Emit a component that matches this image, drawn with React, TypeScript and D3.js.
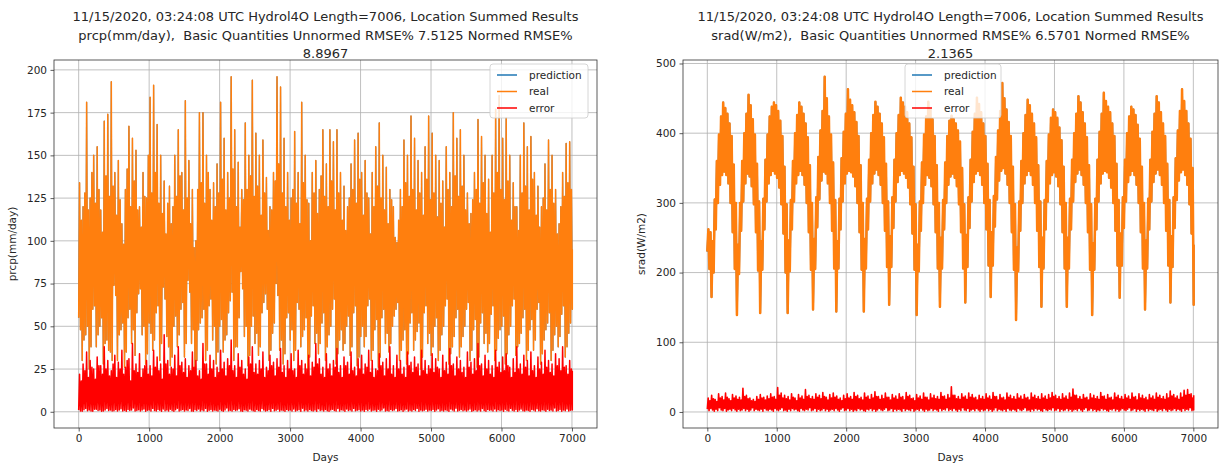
import React, { useEffect, useRef } from 'react';
import * as d3 from 'd3';

// last day index of the 7006-long series
const LAST_DAY = 7005;

const xTicks = [0, 1000, 2000, 3000, 4000, 5000, 6000, 7000];
const prcpTicks = [0, 25, 50, 75, 100, 125, 150, 175, 200];
const sradTicks = [0, 100, 200, 300, 400, 500];
const legendLabels = ['prediction', 'real', 'error'];

const prcpTitle = [
  '11/15/2020, 03:24:08 UTC Hydrol4O Length=7006, Location Summed Results',
  'prcp(mm/day),  Basic Quantities Unnormed RMSE% 7.5125 Normed RMSE%',
  '8.8967',
];
const sradTitle = [
  '11/15/2020, 03:24:08 UTC Hydrol4O Length=7006, Location Summed Results',
  'srad(W/m2),  Basic Quantities Unnormed RMSE% 6.5701 Normed RMSE%',
  '2.1365',
];

// prcp: spike tops / floors of the real series, one pair per ~25 days
const prcpRealHigh = [
  134, 112, 120, 128, 181, 118, 125, 140, 150, 122, 155, 130, 118, 105, 170, 138, 174, 126, 193, 132,
  140, 115, 147, 124, 110, 98, 130, 142, 167, 120, 160, 135, 153, 118, 120, 108, 140, 126, 125, 150,
  184, 128, 191, 140, 168, 122, 150, 116, 135, 104, 122, 132, 110, 120, 150, 126, 165, 138, 140, 118,
  182, 125, 147, 110, 130, 96, 100, 130, 175, 134, 175, 122, 150, 140, 130, 112, 134, 120, 145, 128,
  181, 136, 160, 118, 140, 125, 196, 142, 165, 120, 146, 108, 130, 124, 169, 130, 150, 138, 194, 126,
  163, 132, 150, 115, 159, 128, 137, 106, 120, 118, 140, 135, 196, 145, 190, 128, 160, 120, 140, 112,
  125, 130, 164, 122, 140, 110, 181, 134, 150, 124, 122, 100, 140, 128, 147, 116, 130, 138, 165, 126,
  145, 120, 165, 135, 158, 118, 165, 128, 140, 112, 132, 106, 120, 125, 145, 130, 159, 122, 163, 136,
  140, 115, 147, 128, 125, 104, 140, 120, 155, 132, 169, 125, 150, 118, 143, 110, 130, 124, 120, 102,
  99, 112, 130, 120, 159, 134, 150, 126, 173, 130, 160, 118, 147, 128, 140, 115, 155, 136, 173, 124,
  163, 128, 150, 114, 147, 122, 135, 108, 155, 130, 140, 120, 175, 138, 160, 126, 165, 132, 150, 118,
  128, 110, 116, 124, 140, 130, 171, 122, 161, 134, 150, 116, 136, 105, 150, 128, 177, 140, 185, 130,
  160, 124, 172, 135, 150, 112, 134, 120, 120, 106, 150, 128, 169, 132, 155, 118, 161, 136, 140, 115,
  132, 108, 120, 125, 145, 118, 159, 130, 150, 122, 130, 104, 110, 120, 140, 126, 157, 134, 158, 130,
  95,
];
const prcpRealLow = [
  55, 48, 30, 42, 45, 50, 25, 38, 60, 62, 38, 45, 50, 55, 28, 40, 42, 36, 35, 30,
  74, 68, 30, 45, 48, 52, 26, 35, 55, 60, 40, 48, 33, 58, 69, 72, 45, 50, 28, 34,
  52, 46, 36, 42, 58, 62, 30, 40, 73, 66, 44, 38, 27, 32, 50, 56, 38, 45, 60, 64,
  32, 40, 77, 70, 40, 48, 25, 30, 48, 52, 55, 60, 30, 36, 62, 66, 42, 50, 28, 35,
  50, 54, 35, 42, 45, 58, 65, 70, 30, 38, 38, 55, 82, 72, 44, 50, 27, 33, 50, 56,
  40, 46, 33, 38, 58, 64, 69, 60, 30, 36, 46, 52, 75, 68, 36, 42, 28, 34, 55, 58,
  42, 48, 30, 36, 64, 60, 38, 44, 48, 55, 25, 32, 56, 62, 40, 46, 34, 40, 52, 58,
  30, 38, 45, 50, 60, 66, 28, 34, 42, 48, 36, 40, 50, 56, 33, 38, 58, 62, 27, 32,
  44, 50, 38, 44, 62, 66, 30, 36, 48, 54, 26, 32, 55, 60, 40, 46, 35, 40, 50, 56,
  60, 64, 30, 36, 42, 48, 28, 34, 52, 58, 36, 42, 47, 52, 25, 32, 58, 62, 40, 46,
  33, 38, 50, 55, 30, 36, 45, 50, 62, 66, 28, 34, 38, 44, 55, 60, 32, 38, 44, 50,
  60, 64, 30, 36, 48, 54, 26, 32, 52, 58, 40, 46, 35, 40, 57, 62, 30, 36, 43, 48,
  50, 56, 28, 34, 45, 50, 62, 66, 33, 38, 40, 46, 55, 60, 30, 36, 48, 54, 36, 42,
  60, 64, 28, 34, 42, 48, 52, 58, 30, 36, 45, 50, 38, 44, 57, 62, 32, 38, 46, 52,
  60,
];
const prcpErrHigh = [
  22, 18, 28, 24, 35, 20, 30, 26, 25, 19, 32, 27, 27, 22, 38, 25, 30, 21, 24, 28,
  33, 20, 29, 25, 36, 22, 26, 30, 31, 18, 40, 24, 28, 23, 34, 20, 25, 27, 30, 22,
  27, 21, 36, 26, 32, 24, 28, 19, 45, 28, 30, 22, 26, 25, 33, 21, 38, 27, 29, 23,
  31, 20, 27, 24, 35, 26, 30, 21, 24, 19, 40, 28, 28, 22, 33, 25, 30, 20, 26, 23,
  36, 25, 29, 21, 31, 27, 42, 24, 27, 20, 34, 26, 30, 22, 25, 19, 32, 28, 38, 23,
  28, 22, 30, 25, 35, 20, 26, 24, 33, 27, 29, 21, 31, 26, 37, 23, 27, 20, 30, 25,
  34, 24, 25, 20, 36, 27, 30, 22, 28, 25, 33, 21, 29, 26, 40, 28, 31, 22, 26, 20,
  34, 25, 28, 21, 30, 26, 37, 23, 27, 20, 32, 27, 29, 22, 35, 24, 26, 21, 31, 25,
  33, 22, 28, 26, 36, 23, 30, 20, 25, 24, 34, 27, 29, 21, 31, 25, 38, 22, 27, 20,
  33, 25, 30, 22, 26, 20, 35, 27, 29, 23, 32, 26, 28, 21, 36, 24, 30, 22, 27, 25,
  34, 23, 31, 26, 25, 20, 33, 24, 29, 22, 37, 27, 28, 21, 32, 25, 30, 23, 26, 20,
  35, 26, 29, 22, 31, 24, 40, 27, 28, 21, 33, 25, 30, 22, 27, 20, 36, 26, 29, 23,
  32, 24, 34, 27, 26, 20, 31, 23, 38, 25, 28, 22, 33, 26, 30, 21, 35, 24, 27, 20,
  32, 25, 29, 22, 36, 26, 30, 23, 28, 21, 34, 27, 31, 24, 38, 26, 27, 22, 30, 25,
  24,
];
const prcpErrLow = [
  1, 0.5, 0.3, 1.2, 2, 0.6, 1, 0.4, 0.3, 1.5, 1.5, 0.8, 1, 0.3, 0.5, 1.1, 2, 0.7, 1, 0.4,
  0.6, 1.3, 0.4, 1, 1.8, 0.5, 0.9, 0.3, 1.4, 0.7, 1, 2.2, 0.5, 0.8, 1.2, 0.4, 1, 1.6, 0.3, 0.9,
  1.1, 0.5, 2, 0.7, 0.4, 1.3, 0.9, 0.3, 1.7, 0.6, 1, 0.4, 1.5, 0.8, 0.3, 1.2, 2.1, 0.5, 0.9, 1.4,
  0.4, 1, 0.7, 1.9, 0.5, 0.3, 1.2, 0.8, 1.6, 0.4, 1, 0.6, 2, 0.3, 0.9, 1.3, 0.5, 1.1, 0.7, 0.4,
  1.5, 0.8, 0.3, 1, 2.2, 0.6, 0.9, 0.4, 1.3, 0.7, 1, 1.8, 0.5, 0.3, 1.2, 0.9, 0.4, 1.6, 1, 0.6,
  0.3, 1.4, 0.8, 0.5, 1.9, 1, 0.4, 0.7, 1.2, 0.3, 2, 0.6, 0.9, 1.5, 0.4, 1.1, 0.7, 0.3, 1.3, 0.8,
  1, 0.5, 1.7, 0.4, 0.9, 1.2, 0.3, 2.1, 0.6, 1, 0.4, 1.4, 0.8, 0.5, 1.1, 0.3, 1.8, 0.7, 1, 0.4,
  1.3, 0.6, 0.3, 1, 1.5, 0.8, 0.4, 1.9, 0.5, 1.2, 0.9, 0.3, 1.6, 0.7, 1, 0.4, 2, 0.6, 0.9, 1.2,
  0.5, 1, 0.3, 1.4, 0.8, 1.7, 0.4, 0.9, 1.1, 0.3, 1.5, 0.6, 1, 2.2, 0.5, 0.8, 0.4, 1.3, 0.7, 1,
  1.9, 0.4, 0.8, 1.2, 0.3, 1, 1.6, 0.5, 0.9, 0.4, 1.3, 0.7, 2, 0.3, 1.1, 0.6, 0.9, 1.5, 0.4, 1,
  0.7, 1.4, 0.3, 1, 1.8, 0.5, 0.9, 0.4, 1.2, 0.8, 0.3, 1.6, 1, 0.5, 2.1, 0.4, 0.9, 1.3, 0.6, 1,
  0.4, 1.1, 1.7, 0.3, 0.8, 1.2, 0.5, 1, 0.4, 1.9, 0.7, 0.3, 1.4, 0.9, 1, 0.5, 1.6, 0.4, 1.2, 0.8,
  1, 0.3, 1.5, 0.7, 0.4, 2, 0.9, 0.5, 1.3, 0.3, 1, 1.7, 0.6, 0.4, 1.1, 0.8, 0.3, 1.4, 1, 0.5,
  1.8, 0.6, 0.4, 1.2, 0.9, 0.3, 1.5, 0.7, 1, 0.4, 2.2, 0.5, 0.8, 1.3, 0.3, 1, 0.6, 1.6, 0.4, 0.9,
  1,
];

// srad: floor / top of the real series, one pair per ~30.5 days, one row per seasonal cycle
const sradRealLow = [
  230, 205, 165,
  200, 262, 300, 326, 340, 345, 340, 328, 300, 258, 205, 139,
  198, 260, 302, 328, 342, 338, 324, 298, 258, 203, 142,
  204, 262, 302, 328, 340, 346, 342, 336, 322, 298, 256, 200, 142,
  202, 262, 302, 328, 340, 346, 340, 326, 300, 258, 204, 147,
  205, 265, 305, 332, 345, 342, 328, 300, 260, 206, 144,
  206, 262, 302, 328, 342, 346, 344, 338, 324, 300, 258, 204, 144,
  206, 262, 302, 328, 342, 348, 340, 326, 300, 260, 208, 154,
  208, 264, 302, 330, 340, 346, 342, 336, 322, 298, 256, 204, 139,
  202, 260, 300, 326, 340, 336, 324, 298, 258, 206, 151,
  206, 262, 300, 326, 338, 342, 336, 324, 298, 258, 206, 157,
  208, 264, 302, 330, 342, 346, 340, 326, 300, 262, 210, 165,
  210, 266, 305, 332, 346, 350, 342, 326, 300, 258, 204, 132,
  202, 260, 300, 328, 340, 346, 340, 326, 300, 260, 208, 151,
  206, 262, 302, 328, 340, 344, 338, 324, 298, 258, 206, 151,
  206, 262, 302, 330, 342, 348, 340, 326, 300, 258, 204, 139,
  204, 262, 302, 328, 342, 346, 344, 336, 322, 300, 260, 210, 164,
  210, 264, 302, 330, 340, 346, 340, 326, 300, 258, 206, 147,
  206, 262, 302, 330, 342, 348, 340, 326, 300, 260, 210, 157,
  208, 264, 304, 332, 344, 348, 340, 326, 298, 256, 154,
];
const sradRealHigh = [
  262, 258, 245,
  305, 360, 398, 424, 444, 436, 428, 414, 396, 355, 300, 240,
  300, 360, 400, 428, 455, 440, 420, 398, 356, 302, 245,
  306, 362, 398, 424, 438, 444, 440, 432, 418, 396, 352, 298, 246,
  304, 360, 400, 426, 444, 438, 428, 414, 394, 354, 300, 248,
  308, 366, 404, 432, 481, 450, 424, 398, 358, 304, 245,
  306, 364, 402, 428, 463, 448, 440, 430, 416, 396, 354, 300, 248,
  306, 362, 400, 426, 445, 438, 428, 414, 394, 356, 302, 252,
  308, 362, 400, 426, 451, 444, 438, 430, 414, 394, 352, 298, 240,
  302, 358, 398, 424, 445, 434, 420, 396, 354, 300, 250,
  304, 358, 396, 418, 425, 420, 414, 404, 388, 350, 298, 254,
  308, 362, 402, 428, 451, 442, 430, 414, 396, 356, 304, 258,
  310, 366, 404, 432, 472, 450, 434, 416, 396, 352, 298, 236,
  302, 360, 400, 426, 448, 440, 428, 414, 394, 354, 302, 250,
  304, 360, 398, 422, 434, 430, 422, 408, 390, 352, 300, 250,
  306, 362, 400, 428, 453, 444, 430, 414, 394, 354, 298, 242,
  306, 362, 402, 428, 458, 446, 438, 430, 414, 396, 356, 304, 256,
  308, 362, 400, 424, 438, 434, 426, 412, 392, 352, 300, 246,
  306, 362, 402, 428, 453, 444, 430, 414, 396, 356, 304, 252,
  308, 364, 404, 432, 463, 446, 432, 414, 392, 350, 240,
];
const sradErrHigh = [
  20, 16, 24, 19, 18, 15, 26, 20, 22, 17, 27, 21, 19, 16, 25, 20, 23, 18, 21, 17,
  34, 22, 24, 19, 20, 16, 18, 15, 22, 18, 25, 20, 21, 17, 23, 19, 26, 21, 22, 18,
  35, 24, 27, 20, 24, 19, 22, 17, 26, 21, 20, 16, 25, 20, 23, 18, 32, 22, 24, 19,
  22, 18, 26, 21, 24, 19, 28, 22, 21, 17, 25, 20, 27, 21, 23, 18, 20, 16, 24, 19,
  26, 20, 22, 18, 28, 22, 24, 19, 21, 17, 27, 21, 23, 18, 25, 20, 29, 22, 22, 18,
  24, 19, 27, 21, 21, 17, 25, 20, 23, 18, 26, 21, 22, 17, 28, 22, 24, 19, 20, 16,
  25, 20, 23, 18, 27, 21, 21, 17, 26, 20, 24, 19, 22, 18, 28, 22, 23, 18, 25, 20,
  36, 24, 24, 19, 22, 18, 26, 21, 23, 18, 27, 21, 25, 20, 21, 17, 24, 19, 22, 18,
  26, 20, 23, 18, 28, 22, 22, 17, 25, 20, 21, 17, 27, 21, 24, 19, 22, 18, 26, 20,
  23, 18, 25, 20, 21, 17, 27, 21, 24, 19, 22, 18, 26, 20, 23, 18, 25, 20, 28, 22,
  24, 19, 22, 18, 26, 20, 23, 18, 27, 21, 33, 24, 24, 19, 22, 18, 25, 20, 21, 17,
  26, 20, 24, 19, 22, 18, 28, 22, 23, 18, 25, 20, 21, 17, 27, 21, 24, 19, 22, 18,
  25, 20, 23, 18, 27, 21, 22, 17, 26, 20, 24, 19, 21, 17, 25, 20, 23, 18, 27, 21,
  24, 19, 22, 18, 26, 20, 30, 23, 25, 20, 23, 18, 27, 21, 31, 24, 32, 25, 26, 20,
  24,
];
const sradErrLow = [
  4, 2, 5, 3, 1, 4, 2, 6, 3, 2, 5, 1, 3, 4, 2, 5, 3, 1, 4, 2,
  3, 5, 2, 4, 1, 3, 6, 2, 4, 3, 2, 4, 1, 5, 3, 2, 4, 3, 1, 5,
  3, 2, 4, 6, 2, 3, 1, 4, 2, 5, 3, 4, 2, 1, 5, 3, 2, 4, 3, 6,
  2, 3, 5, 1, 4, 2, 3, 5, 2, 4, 1, 3, 4, 2, 5, 3, 1, 4, 6, 2,
  3, 5, 2, 4, 1, 3, 2, 5, 3, 4, 2, 1, 4, 3, 5, 2, 4, 1, 3, 5,
  3, 2, 4, 6, 2, 3, 5, 1, 4, 2, 4, 3, 1, 5, 2, 4, 3, 2, 5, 1,
  3, 4, 2, 5, 3, 1, 4, 2, 3, 5, 2, 4, 3, 1, 5, 2, 4, 3, 6, 2,
  4, 2, 5, 3, 1, 4, 2, 6, 3, 2, 5, 1, 3, 4, 2, 5, 3, 1, 4, 2,
  3, 5, 2, 4, 1, 3, 6, 2, 4, 3, 2, 4, 1, 5, 3, 2, 4, 3, 1, 5,
  3, 2, 4, 6, 2, 3, 1, 4, 2, 5, 3, 4, 2, 1, 5, 3, 2, 4, 3, 6,
  2, 3, 5, 1, 4, 2, 3, 5, 2, 4, 1, 3, 4, 2, 5, 3, 1, 4, 6, 2,
  3, 5, 2, 4, 1, 3, 2, 5, 3, 4, 2, 1, 4, 3, 5, 2, 4, 1, 3, 5,
  3, 2, 4, 6, 2, 3, 5, 1, 4, 2, 4, 3, 1, 5, 2, 4, 3, 2, 5, 1,
  3, 4, 2, 5, 3, 1, 4, 2, 3, 5, 2, 4, 3, 1, 5, 2, 4, 3, 6, 2,
  3,
];

const COLORS = { prediction: '#1f77b4', real: '#ff7f0e', error: '#ff0000' };
const FONT = '"DejaVu Sans", sans-serif';

type Pt = { d: number; v: number };

// one floor value and one top value per bin -> dense up/down trace
const zigzag = (low: number[], high: number[]): Pt[] => {
  const n = Math.min(low.length, high.length);
  const step = LAST_DAY / (n - 1);
  const pts: Pt[] = [];
  for (let i = 0; i < n; i++) {
    const d = i * step;
    pts.push({ d, v: low[i] });
    if (i < n - 1) pts.push({ d: d + step / 2, v: high[i] });
    else pts.push({ d: LAST_DAY, v: high[i] });
  }
  return pts;
};

type Series = { pts: Pt[]; width: number };
type PanelCfg = {
  box: { left: number; top: number; width: number; height: number };
  title: string[];
  ylabel: string;
  yTicks: number[];
  pred: Series;
  real: Series;
  err: Series;
  legend: { x: number; y: number; w: number; h: number };
};

const drawPanel = (svg: d3.Selection<SVGSVGElement, unknown, null, undefined>, cfg: PanelCfg) => {
  const { left, top, width, height } = cfg.box;
  const g = svg.append('g').attr('transform', `translate(${left},${top})`);

  const pad = LAST_DAY * 0.05;
  const x = d3.scaleLinear().domain([-pad, LAST_DAY + pad]).range([0, width]);
  const vals = [...cfg.real.pts, ...cfg.err.pts].map(p => p.v);
  const lo = d3.min(vals) as number;
  const hi = d3.max(vals) as number;
  const m = (hi - lo) * 0.05;
  const y = d3.scaleLinear().domain([lo - m, hi + m]).range([height, 0]);

  // grid
  g.append('g').selectAll('line').data(xTicks).enter().append('line')
    .attr('x1', d => x(d)).attr('x2', d => x(d)).attr('y1', 0).attr('y2', height)
    .attr('stroke', '#b0b0b0').attr('stroke-width', 0.8);
  g.append('g').selectAll('line').data(cfg.yTicks).enter().append('line')
    .attr('x1', 0).attr('x2', width).attr('y1', d => y(d)).attr('y2', d => y(d))
    .attr('stroke', '#b0b0b0').attr('stroke-width', 0.8);

  const line = d3.line<Pt>().x(p => x(p.d)).y(p => y(p.v));
  const clipId = `clip-${left}`;
  g.append('clipPath').attr('id', clipId).append('rect').attr('width', width).attr('height', height);
  const plot = g.append('g').attr('clip-path', `url(#${clipId})`);
  [
    { s: cfg.pred, color: COLORS.prediction },
    { s: cfg.real, color: COLORS.real },
    { s: cfg.err, color: COLORS.error },
  ].forEach(({ s, color }) => {
    plot.append('path').datum(s.pts)
      .attr('fill', 'none').attr('stroke', color).attr('stroke-width', s.width)
      .attr('stroke-linejoin', 'round').attr('d', line);
  });

  // axes
  const xAxis = g.append('g').attr('transform', `translate(0,${height})`)
    .call(d3.axisBottom(x).tickValues(xTicks).tickSize(3.5).tickPadding(3.5).tickFormat(d3.format('d')));
  const yAxis = g.append('g')
    .call(d3.axisLeft(y).tickValues(cfg.yTicks).tickSize(3.5).tickPadding(3.5).tickFormat(d3.format('d')));
  [xAxis, yAxis].forEach(a => {
    a.select('.domain').remove();
    a.selectAll('line').attr('stroke', '#333').attr('stroke-width', 0.8);
    a.selectAll('text').attr('font-family', FONT).attr('font-size', 10.5).attr('fill', '#262626');
  });

  g.append('rect').attr('width', width).attr('height', height)
    .attr('fill', 'none').attr('stroke', '#333').attr('stroke-width', 0.8);

  // labels
  g.append('text').attr('x', width / 2).attr('y', height + 33)
    .attr('text-anchor', 'middle').attr('font-family', FONT).attr('font-size', 10.5).attr('fill', '#262626')
    .text('Days');
  g.append('text').attr('transform', `translate(${-38},${height / 2}) rotate(-90)`)
    .attr('text-anchor', 'middle').attr('font-family', FONT).attr('font-size', 10.5).attr('fill', '#262626')
    .text(cfg.ylabel);
  cfg.title.forEach((t, i) => {
    g.append('text').attr('x', width / 2).attr('y', -39 + i * 18.5)
      .attr('text-anchor', 'middle').attr('font-family', FONT).attr('font-size', 13).attr('fill', '#262626')
      .style('white-space', 'pre')
      .text(t);
  });

  // legend
  const L = cfg.legend;
  const lg = svg.append('g').attr('transform', `translate(${L.x},${L.y})`);
  lg.append('rect').attr('width', L.w).attr('height', L.h).attr('rx', 3)
    .attr('fill', '#fff').attr('fill-opacity', 0.8).attr('stroke', '#cccccc').attr('stroke-width', 0.8);
  const colors = [COLORS.prediction, COLORS.real, COLORS.error];
  legendLabels.forEach((lab, i) => {
    const cy = 11 + i * 16.5;
    lg.append('line').attr('x1', 7).attr('x2', 27).attr('y1', cy).attr('y2', cy)
      .attr('stroke', colors[i]).attr('stroke-width', 1.5);
    lg.append('text').attr('x', 39).attr('y', cy).attr('dy', '0.35em')
      .attr('font-family', FONT).attr('font-size', 10.5).attr('fill', '#262626').text(lab);
  });
};

const App = () => {
  const svgRef = useRef<SVGSVGElement>(null);

  useEffect(() => {
    const svg = d3.select(svgRef.current as SVGSVGElement);
    svg.selectAll('*').remove();

    const prcpReal = zigzag(prcpRealLow, prcpRealHigh);
    const prcpErr = zigzag(prcpErrLow, prcpErrHigh);
    const sradReal = zigzag(sradRealLow, sradRealHigh);
    const sradErr = zigzag(sradErrLow, sradErrHigh);

    drawPanel(svg, {
      box: { left: 54, top: 60, width: 543, height: 368 },
      title: prcpTitle,
      ylabel: 'prcp(mm/day)',
      yTicks: prcpTicks,
      pred: { pts: prcpReal, width: 1.1 },
      real: { pts: prcpReal, width: 1.5 },
      err: { pts: prcpErr, width: 1.5 },
      legend: { x: 490, y: 64, w: 98, h: 54 },
    });
    drawPanel(svg, {
      box: { left: 683, top: 60, width: 535, height: 368 },
      title: sradTitle,
      ylabel: 'srad(W/m2)',
      yTicks: sradTicks,
      pred: { pts: sradReal, width: 1.8 },
      real: { pts: sradReal, width: 2.5 },
      err: { pts: sradErr, width: 1.6 },
      legend: { x: 905, y: 64, w: 96, h: 54 },
    });
  }, []);

  return (
    <svg ref={svgRef} width={1225} height={465}
      style={{ position: 'absolute', left: 0, top: 0, background: '#fff' }} />
  );
};

export default App;
